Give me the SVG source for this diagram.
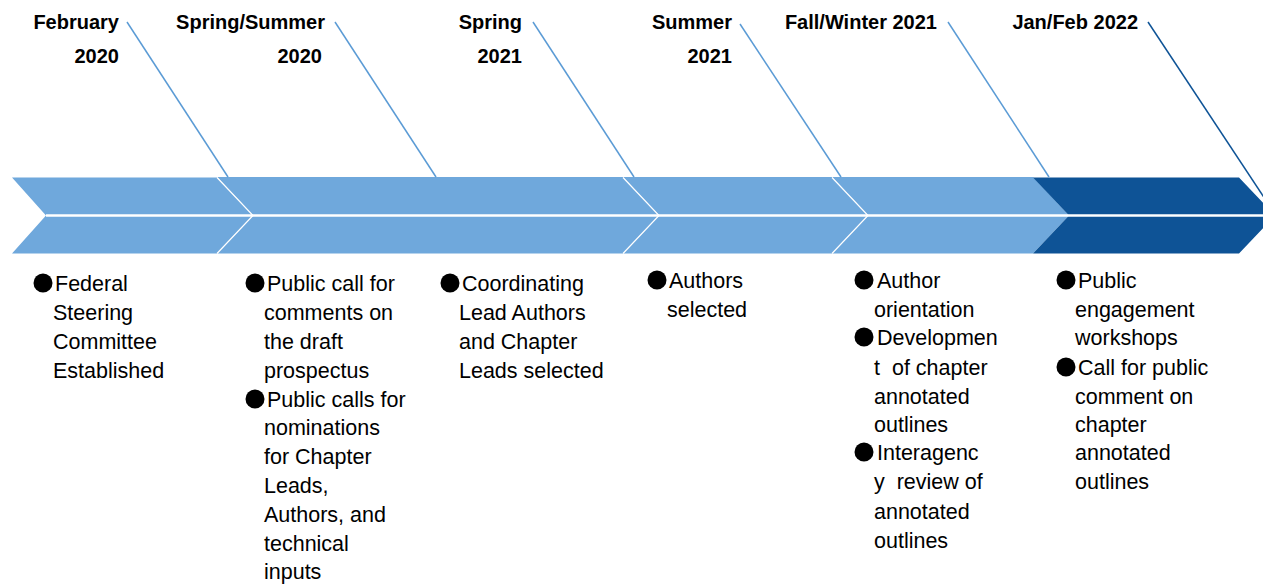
<svg xmlns="http://www.w3.org/2000/svg" width="1263" height="584" viewBox="0 0 1263 584">
<style>
.light{fill:#6fa8dc}
.dark{fill:#0e5396}
.sep{stroke:#ffffff;stroke-width:1.2;fill:none}
.call{stroke:#5b9bd5;stroke-width:1.5;fill:none}
.calld{stroke:#0e5396;stroke-width:1.5;fill:none}
.title{font-family:"Liberation Sans",Arial,sans-serif;font-weight:bold;font-size:20px;fill:#000;text-anchor:end}
.body{font-family:"Liberation Sans",Arial,sans-serif;font-size:21.5px;fill:#000;white-space:pre}
.dot{fill:#000}
</style>
<rect width="1263" height="584" fill="#ffffff"/>
<g id="chevrons">
<polygon class="light" points="12,177.5 217,177.5 253,215.5 217,253.5 12,253.5 46,215.5"/>
<polygon class="light" points="217,177 623,177 659,215.5 623,253.5 217,253.5 253,215.5"/>
<polygon class="light" points="623,177 832,177 868,215.5 832,253.5 623,253.5 659,215.5"/>
<polygon class="light" points="832,177 1033,177 1069,215.5 1033,253.5 832,253.5 868,215.5"/>
<polygon class="dark" points="1033,177.5 1239,177.5 1275,215.5 1239,253.5 1033,253.5 1069,215.5"/>
<polyline class="sep" points="217,177.5 253,215.5 217,253.5"/>
<polyline class="sep" points="623,177.5 659,215.5 623,253.5"/>
<polyline class="sep" points="832,177.5 868,215.5 832,253.5"/>
<line x1="46" y1="215.5" x2="1263" y2="215.5" stroke="#ffffff" stroke-width="2.5"/>
</g>
<g id="connectors">
<line class="call" x1="127" y1="22" x2="228" y2="177"/>
<line class="call" x1="335" y1="22" x2="436" y2="177"/>
<line class="call" x1="533" y1="22" x2="634" y2="177"/>
<line class="call" x1="740" y1="24" x2="841" y2="177"/>
<line class="call" x1="948" y1="22" x2="1049" y2="177"/>
<line class="calld" x1="1148" y1="22" x2="1275" y2="214"/>
</g>
<g id="node1">
<text class="title" x="119" y="28.5">February</text>
<text class="title" x="119" y="63">2020</text>
<circle class="dot" cx="43" cy="283" r="9.5"/>
<text class="body" x="55" y="291">Federal</text>
<text class="body" x="53" y="320">Steering</text>
<text class="body" x="53" y="349">Committee</text>
<text class="body" x="53" y="378">Established</text>
</g>
<g id="node2">
<text class="title" x="325" y="28.5">Spring/Summer</text>
<text class="title" x="322" y="63">2020</text>
<circle class="dot" cx="255" cy="283" r="9.5"/>
<text class="body" x="267" y="291">Public call for</text>
<text class="body" x="264" y="320">comments on</text>
<text class="body" x="264" y="349">the draft</text>
<text class="body" x="264" y="378">prospectus</text>
<circle class="dot" cx="255" cy="399" r="9.5"/>
<text class="body" x="267" y="407">Public calls for</text>
<text class="body" x="264" y="435">nominations</text>
<text class="body" x="264" y="464">for Chapter</text>
<text class="body" x="264" y="493">Leads,</text>
<text class="body" x="264" y="522">Authors, and</text>
<text class="body" x="264" y="551">technical</text>
<text class="body" x="264" y="579">inputs</text>
</g>
<g id="node3">
<text class="title" x="522" y="28.5">Spring</text>
<text class="title" x="522" y="63">2021</text>
<circle class="dot" cx="450" cy="283" r="9.5"/>
<text class="body" x="462" y="291">Coordinating</text>
<text class="body" x="459" y="320">Lead Authors</text>
<text class="body" x="459" y="349">and Chapter</text>
<text class="body" x="459" y="378">Leads selected</text>
</g>
<g id="node4">
<text class="title" x="732" y="28.5">Summer</text>
<text class="title" x="732" y="63">2021</text>
<circle class="dot" cx="657" cy="280" r="9.5"/>
<text class="body" x="669" y="288">Authors</text>
<text class="body" x="667" y="317">selected</text>
</g>
<g id="node5">
<text class="title" x="937" y="28.5">Fall/Winter 2021</text>
<circle class="dot" cx="864" cy="280" r="9.5"/>
<text class="body" x="877" y="288">Author</text>
<text class="body" x="874" y="317">orientation</text>
<circle class="dot" cx="864" cy="337" r="9.5"/>
<text class="body" x="877" y="345">Developmen</text>
<text class="body" x="874" y="375">t  of chapter</text>
<text class="body" x="874" y="404">annotated</text>
<text class="body" x="874" y="432">outlines</text>
<circle class="dot" cx="864" cy="452" r="9.5"/>
<text class="body" x="877" y="460">Interagenc</text>
<text class="body" x="874" y="489">y  review of</text>
<text class="body" x="874" y="519">annotated</text>
<text class="body" x="874" y="548">outlines</text>
</g>
<g id="node6">
<text class="title" x="1138" y="28.5">Jan/Feb 2022</text>
<circle class="dot" cx="1066" cy="280" r="9.5"/>
<text class="body" x="1078" y="288">Public</text>
<text class="body" x="1075" y="317">engagement</text>
<text class="body" x="1075" y="345">workshops</text>
<circle class="dot" cx="1066" cy="367" r="9.5"/>
<text class="body" x="1078" y="375">Call for public</text>
<text class="body" x="1075" y="404">comment on</text>
<text class="body" x="1075" y="432">chapter</text>
<text class="body" x="1075" y="460">annotated</text>
<text class="body" x="1075" y="489">outlines</text>
</g>
</svg>
